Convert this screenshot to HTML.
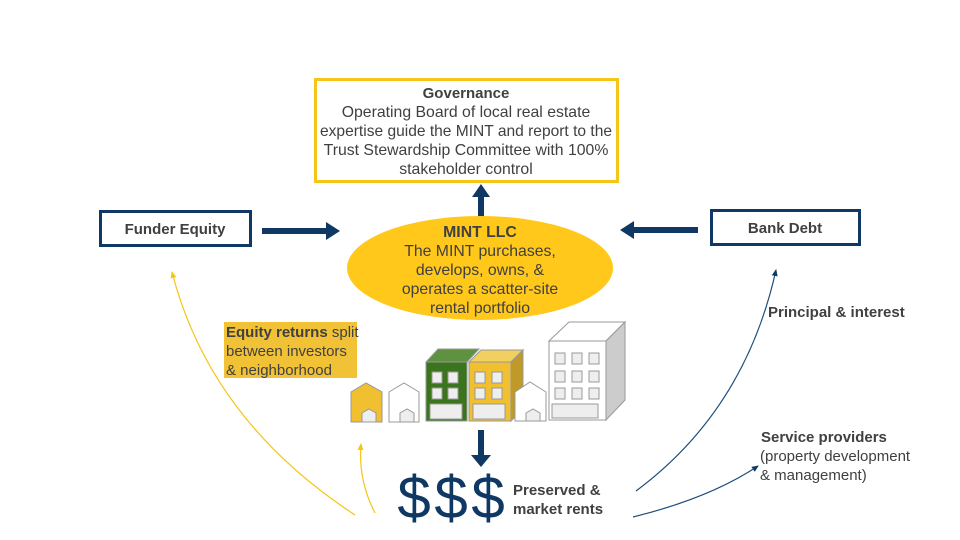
<!DOCTYPE html>
<html><head><style>
body{margin:0;background:#fff}
svg{display:block}
text{font-family:"Liberation Sans",sans-serif;fill:#404040;font-size:15px}
.b{font-weight:bold}
</style></head><body>
<svg width="960" height="540" viewBox="0 0 960 540" xmlns="http://www.w3.org/2000/svg">
<defs>
<marker id="my" markerWidth="8" markerHeight="8" refX="6" refY="4" orient="auto" markerUnits="userSpaceOnUse"><path d="M0,1 L7,4 L0,7z" fill="#F5C518"/></marker>
<marker id="mn" markerWidth="8" markerHeight="8" refX="6" refY="4" orient="auto" markerUnits="userSpaceOnUse"><path d="M0,1 L7,4 L0,7z" fill="#0F3864"/></marker>
</defs>
<rect x="315.5" y="79.5" width="302" height="102" fill="#fff" stroke="#F5C518" stroke-width="3"/>
<g text-anchor="middle">
<text x="466" y="98" class="b">Governance</text>
<text x="466" y="117" style="font-size:15.8px">Operating Board of local real estate</text>
<text x="466" y="136" style="font-size:15.8px" textLength="292" lengthAdjust="spacingAndGlyphs">expertise guide the MINT and report to the</text>
<text x="466" y="155" style="font-size:15.8px">Trust Stewardship Committee with 100%</text>
<text x="466" y="174" style="font-size:15.8px">stakeholder control</text>
</g>
<rect x="478" y="195" width="6" height="28" fill="#0F3864"/>
<path d="M472,197 L481,184 L490,197z" fill="#0F3864"/>
<ellipse cx="480" cy="268" rx="133" ry="52" fill="#FFC81A"/>
<g text-anchor="middle" style="font-size:15.8px">
<text x="480" y="237" class="b" style="font-size:15.8px">MINT LLC</text>
<text x="480" y="256" style="font-size:15.8px">The MINT purchases,</text>
<text x="480" y="275" style="font-size:15.8px">develops, owns, &amp;</text>
<text x="480" y="294" style="font-size:15.8px">operates a scatter-site</text>
<text x="480" y="313" style="font-size:15.8px">rental portfolio</text>
</g>
<rect x="100.5" y="211.5" width="150" height="34" fill="#fff" stroke="#0F3864" stroke-width="3"/>
<text x="175" y="234" text-anchor="middle" class="b">Funder Equity</text>
<rect x="262" y="228" width="66" height="6" fill="#0F3864"/>
<path d="M326,222 L340,231 L326,240z" fill="#0F3864"/>
<rect x="711.5" y="210.5" width="148" height="34" fill="#fff" stroke="#0F3864" stroke-width="3"/>
<text x="785" y="233" text-anchor="middle" class="b">Bank Debt</text>
<rect x="632" y="227" width="66" height="6" fill="#0F3864"/>
<path d="M634,221 L620,230 L634,239z" fill="#0F3864"/>
<rect x="224" y="322" width="133" height="56" fill="#F2C236"/>
<text x="226" y="337"><tspan class="b">Equity returns</tspan> split</text>
<text x="226" y="356">between investors</text>
<text x="226" y="375">&amp; neighborhood</text>
<g stroke="#999" stroke-width="1">
<path d="M351,392 L366,383 L382,392 L382,422 L351,422z" fill="#F0C030"/>
<path d="M362,413 L369,409 L376,413 L376,422 L362,422z" fill="#eee"/>
<path d="M389,392 L404,383 L419,392 L419,422 L389,422z" fill="#fff"/>
<path d="M400,413 L407,409 L414,413 L414,422 L400,422z" fill="#eee"/>
<path d="M426,362 L438,349 L479,349 L467,362z" fill="#5E9140"/>
<rect x="426" y="362" width="41" height="59" fill="#3A751E"/>
<rect x="432" y="372" width="10" height="11" fill="#eee"/><rect x="448" y="372" width="10" height="11" fill="#eee"/>
<rect x="432" y="388" width="10" height="11" fill="#eee"/><rect x="448" y="388" width="10" height="11" fill="#eee"/>
<rect x="430" y="404" width="32" height="15" fill="#eee"/>
<path d="M469,362 L481,350 L523,350 L511,362z" fill="#F2D060"/>
<path d="M511,362 L523,350 L523,409 L511,421z" fill="#C09A28"/>
<rect x="469" y="362" width="42" height="59" fill="#F0C030"/>
<rect x="475" y="372" width="10" height="11" fill="#eee"/><rect x="492" y="372" width="10" height="11" fill="#eee"/>
<rect x="475" y="388" width="10" height="11" fill="#eee"/><rect x="492" y="388" width="10" height="11" fill="#eee"/>
<rect x="473" y="404" width="32" height="15" fill="#eee"/>
<path d="M515,392 L530,382 L546,392 L546,421 L515,421z" fill="#fff"/>
<path d="M526,413 L533,409 L540,413 L540,421 L526,421z" fill="#eee"/>
<path d="M549,341 L569,322 L625,322 L606,341z" fill="#fff"/>
<path d="M606,341 L625,322 L625,400 L606,420z" fill="#ccc"/>
<rect x="549" y="341" width="57" height="79" fill="#fff"/>
<g fill="#eee">
<rect x="555" y="353" width="10" height="11"/><rect x="572" y="353" width="10" height="11"/><rect x="589" y="353" width="10" height="11"/>
<rect x="555" y="371" width="10" height="11"/><rect x="572" y="371" width="10" height="11"/><rect x="589" y="371" width="10" height="11"/>
<rect x="555" y="388" width="10" height="11"/><rect x="572" y="388" width="10" height="11"/><rect x="589" y="388" width="10" height="11"/>
<rect x="552" y="404" width="46" height="14"/>
</g>
</g>
<rect x="478" y="430" width="6" height="26" fill="#0F3864"/>
<path d="M471,455 L481,467 L491,455z" fill="#0F3864"/>
<g text-anchor="middle" style="fill:#0F3864">
<text x="414" y="518" style="font-size:60px;fill:#0F3864">$</text>
<text x="451" y="518" style="font-size:60px;fill:#0F3864">$</text>
<text x="488" y="518" style="font-size:60px;fill:#0F3864">$</text>
</g>
<text x="513" y="495" class="b">Preserved &amp;</text>
<text x="513" y="514" class="b">market rents</text>
<path d="M355,515 Q210,420 172,272" fill="none" stroke="#F5C518" stroke-width="1.2" marker-end="url(#my)"/>
<path d="M375,513 Q358,480 361,444" fill="none" stroke="#F5C518" stroke-width="1.2" marker-end="url(#my)"/>
<path d="M636,491 Q745,410 776,270" fill="none" stroke="#1F4E79" stroke-width="1.2" marker-end="url(#mn)"/>
<path d="M633,517 Q710,498 758,466" fill="none" stroke="#1F4E79" stroke-width="1.2" marker-end="url(#mn)"/>
<text x="768" y="317" class="b">Principal &amp; interest</text>
<text x="761" y="442" class="b">Service providers</text>
<text x="760" y="461">(property development</text>
<text x="760" y="480">&amp; management)</text>
</svg>
</body></html>
